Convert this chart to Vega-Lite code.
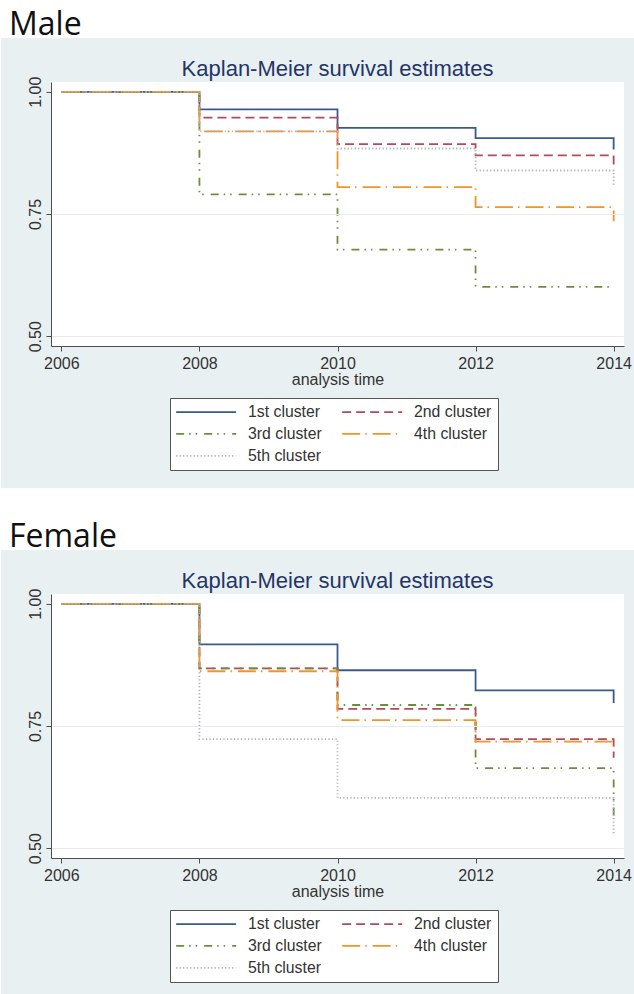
{
  "$schema": "https://vega.github.io/schema/vega-lite/v6.json",
  "background": "white",
  "padding": 0,
  "spacing": -4,
  "datasets": {
    "km": [
      {"sex": "Male", "cluster": "1st cluster", "year": 2006, "survival": 1.0},
      {"sex": "Male", "cluster": "1st cluster", "year": 2008, "survival": 0.964},
      {"sex": "Male", "cluster": "1st cluster", "year": 2010, "survival": 0.926},
      {"sex": "Male", "cluster": "1st cluster", "year": 2012, "survival": 0.905},
      {"sex": "Male", "cluster": "1st cluster", "year": 2014, "survival": 0.882},
      {"sex": "Male", "cluster": "2nd cluster", "year": 2006, "survival": 1.0},
      {"sex": "Male", "cluster": "2nd cluster", "year": 2008, "survival": 0.947},
      {"sex": "Male", "cluster": "2nd cluster", "year": 2010, "survival": 0.893},
      {"sex": "Male", "cluster": "2nd cluster", "year": 2012, "survival": 0.870},
      {"sex": "Male", "cluster": "2nd cluster", "year": 2014, "survival": 0.851},
      {"sex": "Male", "cluster": "3rd cluster", "year": 2006, "survival": 1.0},
      {"sex": "Male", "cluster": "3rd cluster", "year": 2008, "survival": 0.790},
      {"sex": "Male", "cluster": "3rd cluster", "year": 2010, "survival": 0.677},
      {"sex": "Male", "cluster": "3rd cluster", "year": 2012, "survival": 0.601},
      {"sex": "Male", "cluster": "3rd cluster", "year": 2014, "survival": 0.601},
      {"sex": "Male", "cluster": "4th cluster", "year": 2006, "survival": 1.0},
      {"sex": "Male", "cluster": "4th cluster", "year": 2008, "survival": 0.919},
      {"sex": "Male", "cluster": "4th cluster", "year": 2010, "survival": 0.805},
      {"sex": "Male", "cluster": "4th cluster", "year": 2012, "survival": 0.764},
      {"sex": "Male", "cluster": "4th cluster", "year": 2014, "survival": 0.735},
      {"sex": "Male", "cluster": "5th cluster", "year": 2006, "survival": 1.0},
      {"sex": "Male", "cluster": "5th cluster", "year": 2008, "survival": 0.919},
      {"sex": "Male", "cluster": "5th cluster", "year": 2010, "survival": 0.884},
      {"sex": "Male", "cluster": "5th cluster", "year": 2012, "survival": 0.839},
      {"sex": "Male", "cluster": "5th cluster", "year": 2014, "survival": 0.807},
      {"sex": "Female", "cluster": "1st cluster", "year": 2006, "survival": 1.0},
      {"sex": "Female", "cluster": "1st cluster", "year": 2008, "survival": 0.917},
      {"sex": "Female", "cluster": "1st cluster", "year": 2010, "survival": 0.864},
      {"sex": "Female", "cluster": "1st cluster", "year": 2012, "survival": 0.823},
      {"sex": "Female", "cluster": "1st cluster", "year": 2014, "survival": 0.797},
      {"sex": "Female", "cluster": "2nd cluster", "year": 2006, "survival": 1.0},
      {"sex": "Female", "cluster": "2nd cluster", "year": 2008, "survival": 0.868},
      {"sex": "Female", "cluster": "2nd cluster", "year": 2010, "survival": 0.785},
      {"sex": "Female", "cluster": "2nd cluster", "year": 2012, "survival": 0.723},
      {"sex": "Female", "cluster": "2nd cluster", "year": 2014, "survival": 0.685},
      {"sex": "Female", "cluster": "3rd cluster", "year": 2006, "survival": 1.0},
      {"sex": "Female", "cluster": "3rd cluster", "year": 2008, "survival": 0.868},
      {"sex": "Female", "cluster": "3rd cluster", "year": 2010, "survival": 0.793},
      {"sex": "Female", "cluster": "3rd cluster", "year": 2012, "survival": 0.664},
      {"sex": "Female", "cluster": "3rd cluster", "year": 2014, "survival": 0.560},
      {"sex": "Female", "cluster": "4th cluster", "year": 2006, "survival": 1.0},
      {"sex": "Female", "cluster": "4th cluster", "year": 2008, "survival": 0.862},
      {"sex": "Female", "cluster": "4th cluster", "year": 2010, "survival": 0.762},
      {"sex": "Female", "cluster": "4th cluster", "year": 2012, "survival": 0.718},
      {"sex": "Female", "cluster": "4th cluster", "year": 2014, "survival": 0.695},
      {"sex": "Female", "cluster": "5th cluster", "year": 2006, "survival": 1.0},
      {"sex": "Female", "cluster": "5th cluster", "year": 2008, "survival": 0.723},
      {"sex": "Female", "cluster": "5th cluster", "year": 2010, "survival": 0.603},
      {"sex": "Female", "cluster": "5th cluster", "year": 2012, "survival": 0.603},
      {"sex": "Female", "cluster": "5th cluster", "year": 2014, "survival": 0.528}
    ]
  },
  "vconcat": [
    {
      "width": 584,
      "height": 1,
      "data": {"values": []},
      "mark": "point",
      "title": {"text": "Male", "orient": "bottom", "anchor": "start", "frame": "group", "offset": 9, "baseline": "top", "dx": -42, "font": "Open Sans", "fontSize": 32, "fontWeight": "normal", "color": "#111111"}
    },
    {
      "width": 573,
      "height": 264,
      "title": {"text": "Kaplan-Meier survival estimates", "anchor": "middle", "frame": "group", "offset": -42.6, "baseline": "top", "font": "Liberation Sans", "fontSize": 22, "fontWeight": "normal", "color": "#243566"},
      "layer": [
        {
          "data": {"values": [{}]},
          "mark": {"type": "rect", "color": "#e9f0f2"},
          "encoding": {
            "x": {"datum": 2005.1257, "type": "quantitative", "scale": {"domain": [2005.85, 2014.15], "nice": false, "zero": false}, "axis": {"values": [2006, 2008, 2010, 2012, 2014], "format": "d", "title": "analysis time", "grid": false, "zindex": 1}},
            "x2": {"datum": 2014.3093},
            "y": {"datum": 1.11, "type": "quantitative", "scale": {"domain": [0.48, 1.02], "nice": false, "zero": false}, "axis": {"values": [0.5, 0.75, 1], "format": ".2f", "title": null, "grid": true, "zindex": 1, "gridOpacity": {"condition": {"test": "datum.value >= 1", "value": 0}, "value": 1}}},
            "y2": {"datum": 0.18955}
          }
        },
        {
          "data": {"values": [{}]},
          "mark": {"type": "rect", "color": "#ffffff"},
          "encoding": {
            "x": {"datum": 2005.85, "type": "quantitative"},
            "x2": {"datum": 2014.15},
            "y": {"datum": 1.02, "type": "quantitative"},
            "y2": {"datum": 0.48}
          }
        },
        {
          "data": {"name": "km"},
          "transform": [{"filter": "datum.sex === 'Male'"}],
          "mark": {"type": "line", "interpolate": "step-after", "strokeWidth": 1.8},
          "encoding": {
            "x": {"field": "year", "type": "quantitative"},
            "y": {"field": "survival", "type": "quantitative"},
            "color": {"field": "cluster", "type": "nominal",
              "scale": {"domain": ["1st cluster", "2nd cluster", "3rd cluster", "4th cluster", "5th cluster"], "range": ["#3a5a8c", "#b34a5c", "#6a8f3c", "#f0952a", "#aab1b5"]},
              "legend": {"title": null, "orient": "none", "legendX": 119, "legendY": 316, "columns": 2, "direction": "horizontal"}},
            "strokeDash": {"field": "cluster", "type": "nominal",
              "scale": {"domain": ["1st cluster", "2nd cluster", "3rd cluster", "4th cluster", "5th cluster"], "range": [[1, 0], [9, 5], [8, 5, 1.5, 5, 1.5, 7], [18, 5, 1.5, 6], [1.2, 2.3]]},
              "legend": {"title": null, "orient": "none", "legendX": 119, "legendY": 316, "columns": 2, "direction": "horizontal"}}
          }
        }
      ]
    },
    {
      "width": 584,
      "height": 1,
      "data": {"values": []},
      "mark": "point",
      "title": {"text": "Female", "orient": "bottom", "anchor": "start", "frame": "group", "offset": 33, "baseline": "top", "dx": -42, "font": "Open Sans", "fontSize": 32, "fontWeight": "normal", "color": "#111111"}
    },
    {
      "width": 573,
      "height": 264,
      "title": {"text": "Kaplan-Meier survival estimates", "anchor": "middle", "frame": "group", "offset": -42.6, "baseline": "top", "font": "Liberation Sans", "fontSize": 22, "fontWeight": "normal", "color": "#243566"},
      "layer": [
        {
          "data": {"values": [{}]},
          "mark": {"type": "rect", "color": "#e9f0f2"},
          "encoding": {
            "x": {"datum": 2005.1257, "type": "quantitative", "scale": {"domain": [2005.85, 2014.15], "nice": false, "zero": false}, "axis": {"values": [2006, 2008, 2010, 2012, 2014], "format": "d", "title": "analysis time", "grid": false, "zindex": 1}},
            "x2": {"datum": 2014.3093},
            "y": {"datum": 1.11, "type": "quantitative", "scale": {"domain": [0.48, 1.02], "nice": false, "zero": false}, "axis": {"values": [0.5, 0.75, 1], "format": ".2f", "title": null, "grid": true, "zindex": 1, "gridOpacity": {"condition": {"test": "datum.value >= 1", "value": 0}, "value": 1}}},
            "y2": {"datum": 0.18955}
          }
        },
        {
          "data": {"values": [{}]},
          "mark": {"type": "rect", "color": "#ffffff"},
          "encoding": {
            "x": {"datum": 2005.85, "type": "quantitative"},
            "x2": {"datum": 2014.15},
            "y": {"datum": 1.02, "type": "quantitative"},
            "y2": {"datum": 0.48}
          }
        },
        {
          "data": {"name": "km"},
          "transform": [{"filter": "datum.sex === 'Female'"}],
          "mark": {"type": "line", "interpolate": "step-after", "strokeWidth": 1.8},
          "encoding": {
            "x": {"field": "year", "type": "quantitative"},
            "y": {"field": "survival", "type": "quantitative"},
            "color": {"field": "cluster", "type": "nominal",
              "scale": {"domain": ["1st cluster", "2nd cluster", "3rd cluster", "4th cluster", "5th cluster"], "range": ["#3a5a8c", "#b34a5c", "#6a8f3c", "#f0952a", "#aab1b5"]},
              "legend": {"title": null, "orient": "none", "legendX": 119, "legendY": 316, "columns": 2, "direction": "horizontal"}},
            "strokeDash": {"field": "cluster", "type": "nominal",
              "scale": {"domain": ["1st cluster", "2nd cluster", "3rd cluster", "4th cluster", "5th cluster"], "range": [[1, 0], [9, 5], [8, 5, 1.5, 5, 1.5, 7], [18, 5, 1.5, 6], [1.2, 2.3]]},
              "legend": {"title": null, "orient": "none", "legendX": 119, "legendY": 316, "columns": 2, "direction": "horizontal"}}
          }
        }
      ]
    }
  ],
  "resolve": {"scale": {"color": "independent", "strokeDash": "independent"}, "legend": {"color": "independent", "strokeDash": "independent"}},
  "config": {
    "view": {"stroke": null, "fill": null},
    "font": "Liberation Sans",
    "axis": {
      "domainColor": "#4d4d4d", "domainWidth": 1, "tickColor": "#4d4d4d", "tickSize": 5, "tickWidth": 1,
      "labelFont": "Liberation Sans", "labelFontSize": 16, "labelColor": "#333333", "labelPadding": 4,
      "titleFont": "Liberation Sans", "titleFontSize": 16, "titleFontWeight": "normal", "titleColor": "#333333", "titlePadding": 0,
      "gridColor": "#e3ebee", "gridWidth": 1
    },
    "axisY": {"labelAngle": 270, "labelAlign": "center", "labelBaseline": "bottom", "labelPadding": 3},
    "legend": {
      "symbolType": "M-10,0H10", "symbolSize": 36, "symbolStrokeWidth": 1.8, "symbolOffset": 22.25,
      "labelOffset": 34, "labelFont": "Liberation Sans", "labelFontSize": 15.8, "labelColor": "#333333",
      "fillColor": "white", "strokeColor": "#555555", "padding": 6, "rowPadding": 5, "columnPadding": 16, "cornerRadius": 0
    }
  }
}
